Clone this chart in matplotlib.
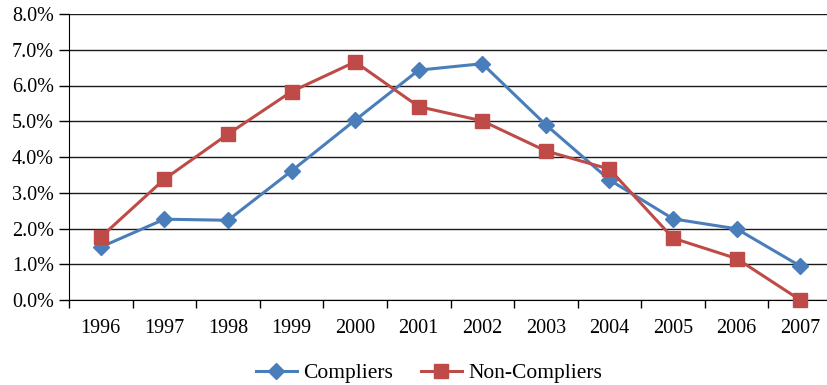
import matplotlib

matplotlib.use("Agg")
from matplotlib import pyplot as plt
from matplotlib.ticker import FuncFormatter

years = ["1996", "1997", "1998", "1999", "2000", "2001", "2002", "2003", "2004", "2005", "2006", "2007"]
compliers = [1.48, 2.26, 2.23, 3.61, 5.03, 6.43, 6.61, 4.90, 3.36, 2.27, 1.99, 0.95]
non_compliers = [1.76, 3.38, 4.64, 5.83, 6.66, 5.41, 5.01, 4.17, 3.66, 1.73, 1.16, 0.0]

plt.rcParams["font.family"] = ["Liberation Serif", "DejaVu Serif"]

fig = plt.figure(figsize=(8.27, 3.85), dpi=100)
fig.patch.set_facecolor("white")
ax = fig.add_axes([69 / 827, 85 / 385, 763 / 827, 286 / 385])

x = list(range(len(years)))
ax.plot(x, compliers, color="#4A7EBB", linewidth=2.2, marker="D", markersize=8.5,
        markerfacecolor="#4A7EBB", markeredgecolor="#4A7EBB", label="Compliers", zorder=3, clip_on=False)
ax.plot(x, non_compliers, color="#BE4B48", linewidth=2.2, marker="s", markersize=10.5,
        markerfacecolor="#BE4B48", markeredgecolor="#BE4B48", label="Non-Compliers", zorder=3, clip_on=False)

ax.set_xlim(-0.5, len(years) - 0.5)
ax.set_ylim(0, 8)
ax.set_yticks(range(0, 9))
ax.yaxis.set_major_formatter(FuncFormatter(lambda v, _: f"{v:.1f}%"))
ax.set_xticks(x)
ax.set_xticklabels(years)
ax.set_xticks([i + 0.5 for i in range(-1, len(years))], minor=True)
ax.tick_params(axis="x", which="major", length=0, pad=14, labelsize=14.5)
ax.tick_params(axis="x", which="minor", length=6, width=1.0, color="black")
ax.tick_params(axis="y", length=7, width=1.0, direction="out", labelsize=14.5, pad=4)

ax.grid(axis="y", color="#1a1a1a", linewidth=1.0, zorder=0)
ax.set_axisbelow(True)
for side in ("top", "right"):
    ax.spines[side].set_visible(False)
ax.spines["left"].set_color("black")
ax.spines["bottom"].set_color("black")

fig.legend(loc="center", bbox_to_anchor=(429 / 827, 1 - 373 / 385), ncol=2, frameon=False,
           fontsize=15.5, handlelength=1.9, columnspacing=1.3, handletextpad=0.3)

fig.savefig("out.png", dpi=100)
